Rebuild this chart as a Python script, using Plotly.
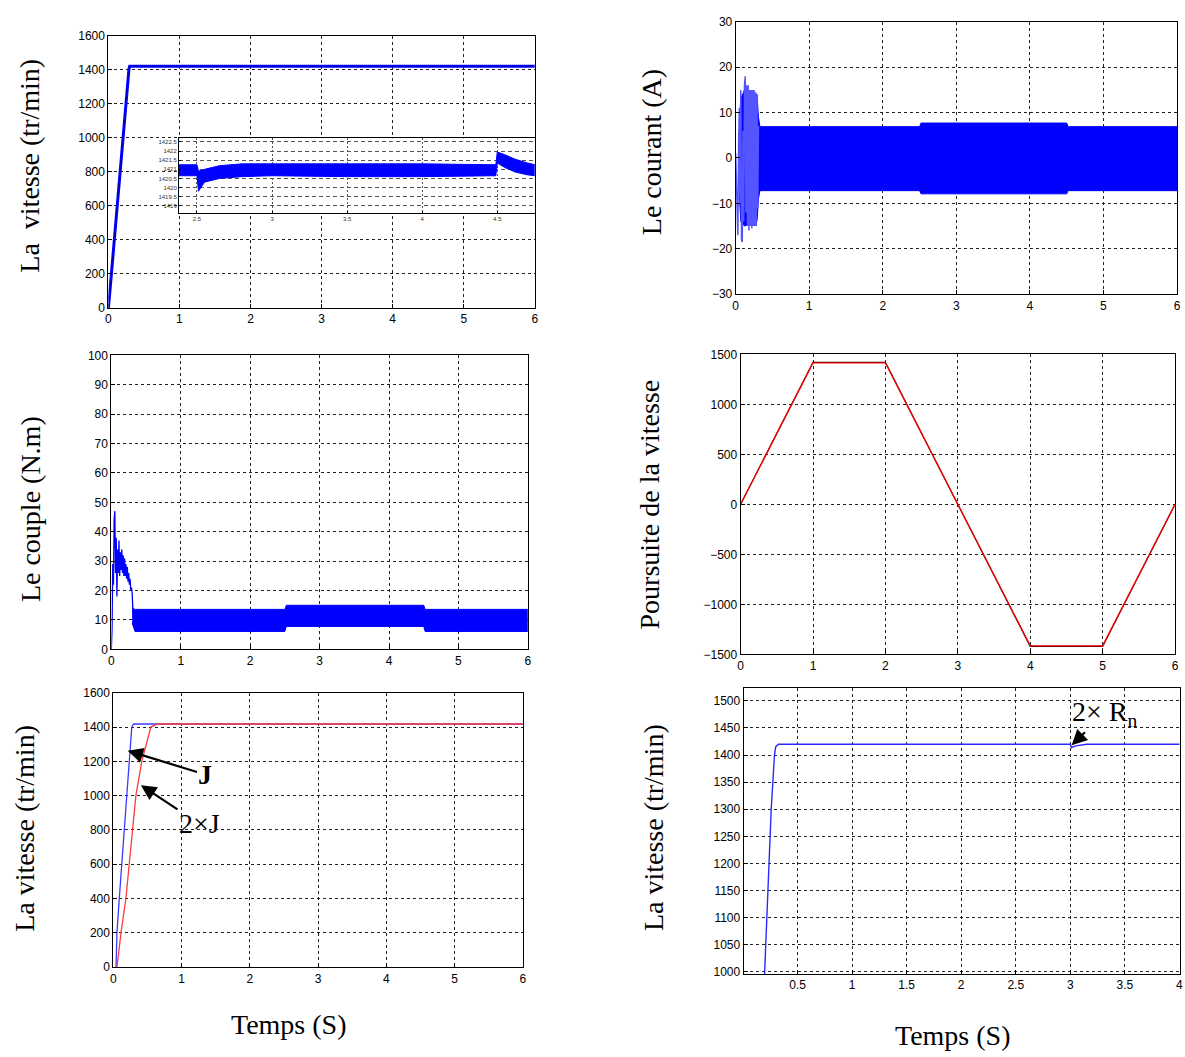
import plotly.graph_objects as go

W, H = 1185, 1057

# ---------------- data ----------------
# Panel 1 : vitesse (tr/min)
p1_t = [0, 0.02, 0.29, 0.30, 6]
p1_w = [0, 90, 1405, 1420, 1420]
p1_ref_t = [0, 0.29, 6]
p1_ref_w = [0, 1420, 1420]
# inset (zoom 2.38 .. 4.75 s)
ins_t = [2.38, 2.50, 2.51, 2.55, 2.65, 2.80, 3.00, 3.50, 4.00, 4.49, 4.50, 4.55, 4.62, 4.70, 4.75]
ins_up = [1421.25, 1421.25, 1420.9, 1421.0, 1421.2, 1421.3, 1421.3, 1421.3, 1421.3, 1421.25,
          1421.95, 1421.8, 1421.55, 1421.35, 1421.25]
ins_lo = [1420.65, 1420.65, 1419.8, 1420.3, 1420.5, 1420.6, 1420.65, 1420.6, 1420.6, 1420.65,
          1421.35, 1421.1, 1420.85, 1420.7, 1420.65]
ins_yticks = [1419, 1419.5, 1420, 1420.5, 1421, 1421.5, 1422, 1422.5]
ins_ylabels = ["1419", "1419.5", "1420", "1420.5", "1421", "1421.5", "1422", "1422.5"]
ins_xticks = [2.5, 3, 3.5, 4, 4.5]
ins_xlabels = ["2.5", "3", "3.5", "4", "4.5"]

# Panel 2 : courant (A)
p2_tr_t = [0, 0.01, 0.02, 0.03, 0.04, 0.05, 0.06, 0.07, 0.08, 0.09, 0.10, 0.11, 0.12, 0.13,
           0.14, 0.15, 0.16, 0.17, 0.18, 0.19, 0.20, 0.21, 0.22, 0.23, 0.24, 0.25, 0.26, 0.27,
           0.28, 0.29, 0.30, 0.31]
p2_tr_i = [1, -5, -16, -17, 3, 11, -10, 15, -18, -18.5, 6, -14, 16, 18, -12, 16, -15, 16,
           -16, 15, -15, 15, -15.5, 15, -15, 15, -15, 14.5, -15, 14, -11, 7]
p2_env_t = [0.05, 0.07, 0.12, 0.20, 0.29, 0.31, 0.33, 2.50, 2.52, 4.50, 4.52, 6]
p2_env_up = [8, 13, 15, 14.5, 14, 9, 6.9, 6.9, 7.7, 7.7, 6.9, 6.9]
p2_env_lo = [-8, -14, -15, -14.5, -14, -9, -7.2, -7.2, -7.9, -7.9, -7.2, -7.2]

# Panel 3 : couple (N.m)
p3_tr_t = [0, 0.01, 0.02, 0.03, 0.04, 0.05, 0.06, 0.07, 0.08, 0.09, 0.10, 0.11, 0.12, 0.13,
           0.14, 0.15, 0.16, 0.17, 0.18, 0.19, 0.20, 0.21, 0.22, 0.23, 0.24, 0.25, 0.26, 0.27,
           0.28, 0.29, 0.30, 0.31, 0.32]
p3_tr_c = [0, 7, 29, 22, 44, 47, 26, 38, 18, 34, 26, 37, 25, 33, 27, 34, 26, 32, 25, 31, 25,
           29, 24, 28, 23, 26, 22, 24, 20, 21, 19, 10, 8]
p3_env_t = [0.30, 0.34, 2.50, 2.52, 4.50, 4.52, 6]
p3_env_up = [14, 13.6, 13.6, 15.0, 15.0, 13.6, 13.6]
p3_env_lo = [9, 6.1, 6.1, 7.8, 7.8, 6.1, 6.1]

# Panel 4 : poursuite de la vitesse
p4_t = [0, 1, 2, 3, 4, 5, 6]
p4_ref = [0, 1420, 1420, 0, -1420, -1420, 0]
p4_mes = [0, 1415, 1415, 0, -1415, -1415, 0]

# Panel 5 : effet de l'inertie
p5_J_t = [0.039, 0.053, 0.087, 0.16, 0.233, 0.27, 0.296, 6]
p5_J_w = [0, 200, 400, 800, 1200, 1400, 1418, 1418]
p5_2J_t = [0.053, 0.112, 0.184, 0.233, 0.33, 0.417, 0.52, 0.549, 0.646, 6]
p5_2J_w = [0, 200, 400, 600, 1000, 1200, 1370, 1400, 1418, 1418]

# Panel 6 : effet de la resistance
p6_t = [0.195, 0.198, 0.234, 0.259, 0.289, 0.30, 0.325, 2.99, 3.0, 3.01, 3.05, 3.15, 4.0]
p6_w = [980, 996, 1200, 1300, 1400, 1415, 1420, 1420, 1420, 1414, 1417, 1420, 1420]
p6_xticks = [0.5, 1, 1.5, 2, 2.5, 3, 3.5, 4]
p6_xlabels = ["0.5", "1", "1.5", "2", "2.5", "3", "3.5", "4"]

# ---------------- helpers ----------------
def xd(a, b):
    return [a / W, b / W]

def yd(top, bot):
    return [1 - bot / H, 1 - top / H]

TICKFONT = dict(family="Liberation Sans", size=12, color="black")
GRID = dict(showgrid=True, gridcolor="#222", griddash="3px,3px", gridwidth=1)

def axis(domain, rng, anchor, **kw):
    d = dict(domain=domain, range=rng, anchor=anchor, showline=True, linecolor="black",
             linewidth=1, mirror=True, ticks="inside", ticklen=4, tickcolor="black",
             zeroline=False, tickfont=TICKFONT, separatethousands=False, **GRID)
    d.update(kw)
    return d

BLUE = "#0000ff"
RED = "#ff0000"

fig = go.Figure()

# Panel 1
fig.add_trace(go.Scatter(x=p1_t, y=p1_w, mode="lines", line=dict(color=BLUE, width=3),
                         xaxis="x", yaxis="y"))
fig.add_trace(go.Scatter(x=p1_ref_t, y=p1_ref_w, mode="lines",
                         line=dict(color="black", width=1, dash="4px,4px"), opacity=0.5,
                         xaxis="x", yaxis="y"))
# Panel 2
fig.add_trace(go.Scatter(x=p2_env_t, y=p2_env_lo, mode="lines", line=dict(color=BLUE, width=1),
                         xaxis="x2", yaxis="y2"))
fig.add_trace(go.Scatter(x=p2_env_t, y=p2_env_up, mode="lines", line=dict(color=BLUE, width=1),
                         fill="tonexty", fillcolor=BLUE, xaxis="x2", yaxis="y2"))
fig.add_trace(go.Scatter(x=p2_tr_t, y=p2_tr_i, mode="lines", line=dict(color="#5555ff", width=1.5),
                         xaxis="x2", yaxis="y2"))
# Panel 3
fig.add_trace(go.Scatter(x=p3_env_t, y=p3_env_lo, mode="lines", line=dict(color=BLUE, width=1),
                         xaxis="x3", yaxis="y3"))
fig.add_trace(go.Scatter(x=p3_env_t, y=p3_env_up, mode="lines", line=dict(color=BLUE, width=1),
                         fill="tonexty", fillcolor=BLUE, xaxis="x3", yaxis="y3"))
fig.add_trace(go.Scatter(x=p3_tr_t, y=p3_tr_c, mode="lines", line=dict(color=BLUE, width=1.3),
                         xaxis="x3", yaxis="y3"))
# Panel 4
fig.add_trace(go.Scatter(x=p4_t, y=p4_ref, mode="lines", line=dict(color="black", width=1.2),
                         xaxis="x4", yaxis="y4"))
fig.add_trace(go.Scatter(x=p4_t, y=p4_mes, mode="lines", line=dict(color=RED, width=1.3),
                         xaxis="x4", yaxis="y4"))
# Panel 5
fig.add_trace(go.Scatter(x=p5_J_t, y=p5_J_w, mode="lines", line=dict(color="#3a3aff", width=1.3),
                         xaxis="x5", yaxis="y5"))
fig.add_trace(go.Scatter(x=p5_2J_t, y=p5_2J_w, mode="lines", line=dict(color="#ff3a3a", width=1.3),
                         xaxis="x5", yaxis="y5"))
# Panel 6
fig.add_trace(go.Scatter(x=p6_t, y=p6_w, mode="lines", line=dict(color="#2a2aff", width=1.4),
                         xaxis="x6", yaxis="y6"))
# Inset
fig.add_trace(go.Scatter(x=ins_t, y=ins_lo, mode="lines", line=dict(color=BLUE, width=1),
                         xaxis="x7", yaxis="y7"))
fig.add_trace(go.Scatter(x=ins_t, y=ins_up, mode="lines", line=dict(color=BLUE, width=1),
                         fill="tonexty", fillcolor=BLUE, xaxis="x7", yaxis="y7"))

INSET_FONT = dict(family="Liberation Sans", size=6, color="#333")

fig.update_layout(
    width=W, height=H, autosize=False, showlegend=False,
    margin=dict(l=0, r=0, t=0, b=0),
    paper_bgcolor="white", plot_bgcolor="white",
    xaxis=axis(xd(106, 535), [0, 6], "y", dtick=1),
    yaxis=axis(yd(29, 305), [0, 1600], "x", dtick=200),
    xaxis2=axis(xd(737, 1181), [0, 6], "y2", dtick=1),
    yaxis2=axis(yd(15, 291), [-30, 30], "x2", dtick=10),
    xaxis3=axis(xd(109, 528), [0, 6], "y3", dtick=1),
    yaxis3=axis(yd(353, 651), [0, 100], "x3", dtick=10),
    xaxis4=axis(xd(742, 1179), [0, 6], "y4", dtick=1),
    yaxis4=axis(yd(352, 656), [-1500, 1500], "x4", dtick=500),
    xaxis5=axis(xd(111, 523), [0, 6], "y5", dtick=1),
    yaxis5=axis(yd(695, 973), [0, 1600], "x5", dtick=200),
    xaxis6=axis(xd(745, 1184), [0.006, 4.005], "y6", tickvals=p6_xticks, ticktext=p6_xlabels),
    yaxis6=axis(yd(690, 980), [996, 1524], "x6", dtick=50),
    xaxis7=axis(xd(177, 535), [2.38, 4.75], "y7", tickvals=ins_xticks, ticktext=ins_xlabels,
                ticklen=2, tickfont=INSET_FONT, gridcolor="#555", griddash="2px,2px"),
    yaxis7=axis(yd(133, 209), [1418.6, 1422.7], "x7", tickvals=ins_yticks, ticktext=ins_ylabels,
                ticklen=2, tickfont=INSET_FONT, gridcolor="#555", griddash="4px,3px"),
)

TITLE = dict(family="Liberation Serif", size=28, color="black")

def vtitle(text, xpx, ypx):
    return dict(text=text, x=xpx / W, y=1 - ypx / H, xref="paper", yref="paper",
                showarrow=False, textangle=-90, font=TITLE, xanchor="center", yanchor="middle")

def htitle(text, xpx, ypx):
    return dict(text=text, x=xpx / W, y=1 - ypx / H, xref="paper", yref="paper",
                showarrow=False, font=TITLE, xanchor="center", yanchor="middle")

ARROW = dict(showarrow=True, arrowhead=2, arrowsize=1.4, arrowwidth=2.2, arrowcolor="black",
             font=dict(family="Liberation Serif", size=28, color="black"))

annotations = [
    vtitle("La\u00a0 vitesse (tr/min)", 27, 161),
    vtitle("Le courant (A)", 652, 147),
    vtitle("Le couple (N.m)", 27, 509),
    vtitle("Poursuite de la vitesse", 650, 504),
    vtitle("La vitesse (tr/min)", 22, 832),
    vtitle("La vitesse (tr/min)", 655, 832),
    htitle("Temps (S)", 287, 1031),
    htitle("Temps (S)", 955, 1042),
    # panel 5 labels with arrows (text sits at the arrow tail)
    dict(text="<b>J</b>", x=0.21, y=1262, xref="x5", yref="y5", ax=1.35, ay=1123,
         axref="x5", ayref="y5", **ARROW),
    dict(text="2\u00d7J", x=0.403, y=1061, xref="x5", yref="y5", ax=1.262, ay=836,
         axref="x5", ayref="y5", **ARROW),
    # panel 6 label with arrow
    dict(text="2\u00d7 R<sub>n</sub>", x=3.012, y=1418, xref="x6", yref="y6", ax=3.313, ay=1477,
         axref="x6", ayref="y6", **ARROW),
]
fig.update_layout(annotations=annotations)

fig.write_html("out.html", post_script="document.body.style.margin='0px';",
               config={"displayModeBar": False})
